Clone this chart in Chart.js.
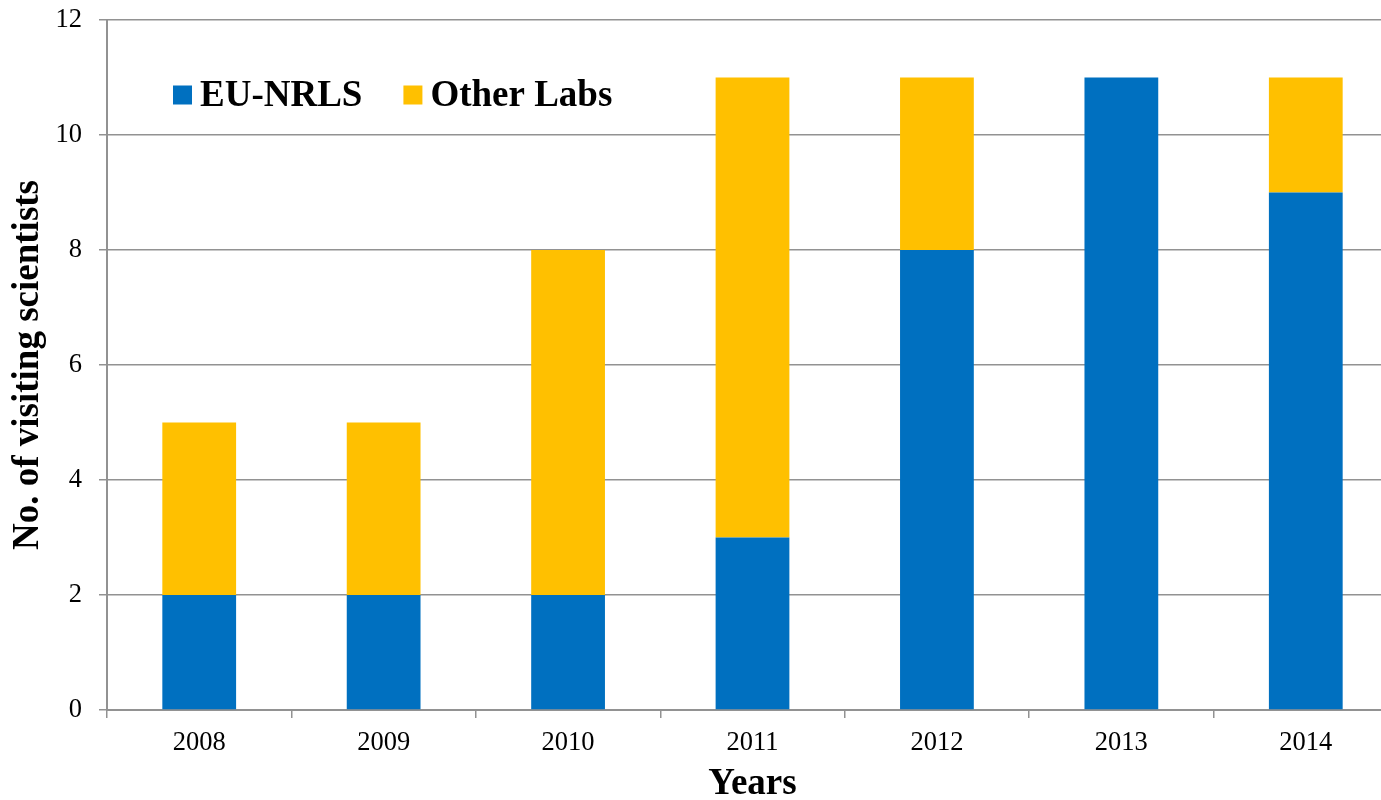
<!DOCTYPE html>
<html lang="en">
<head>
  <meta charset="UTF-8" />
  <title>Visiting scientists</title>
  <script src="https://cdn.jsdelivr.net/npm/chart.js"></script>
  <style>
    html, body { margin: 0; padding: 0; background: #fff; overflow: hidden; }
    .wrap { width: 1398px; height: 800px; position: relative; }
  </style>
</head>
<body>
  <div class="wrap"><canvas id="chart"></canvas></div>

  <script>
    const years = ['2008', '2009', '2010', '2011', '2012', '2013', '2014'];
    const euNrls = [2, 2, 2, 3, 8, 11, 9];
    const otherLabs = [3, 3, 6, 8, 3, 0, 2];
    const yTicks = [0, 2, 4, 6, 8, 10, 12];

    const serif = "'Liberation Serif', 'Times New Roman', serif";
    const gridGray = '#929292';

    // legend drawn inside the plot, top-left
    const innerLegend = {
      id: 'innerLegend',
      afterDraw(chart) {
        const ctx = chart.ctx;
        const area = chart.chartArea;
        let x = area.left + 66;
        const y = area.top + 75;
        ctx.save();
        ctx.font = 'bold 37px ' + serif;
        ctx.textBaseline = 'middle';
        chart.data.datasets.forEach(ds => {
          ctx.fillStyle = ds.backgroundColor;
          ctx.fillRect(x, y - 9.5, 19, 19);
          ctx.fillStyle = '#000';
          ctx.fillText(ds.label, x + 27, y + 1);
          x += 27 + ctx.measureText(ds.label).width + 41;
        });
        ctx.restore();
      }
    };

    new Chart(document.getElementById('chart'), {
      type: 'bar',
      data: {
        labels: years,
        datasets: [
          { label: 'EU-NRLS', data: euNrls, backgroundColor: '#0070C0' },
          { label: 'Other Labs', data: otherLabs, backgroundColor: '#FFC000' }
        ]
      },
      options: {
        responsive: true,
        maintainAspectRatio: false,
        animation: false,
        layout: { padding: { top: 20, left: 0, right: 0, bottom: 0 } },
        datasets: { bar: { categoryPercentage: 1, barPercentage: 0.4 } },
        plugins: { legend: { display: false }, tooltip: { enabled: false } },
        scales: {
          x: {
            stacked: true,
            grid: { display: true, drawOnChartArea: false, offset: true, color: gridGray, lineWidth: 1.5, tickLength: 8 },
            border: { color: gridGray, width: 2 },
            ticks: { color: '#000', font: { family: serif, size: 26.5 }, padding: 9, maxRotation: 0 },
            title: { display: true, text: 'Years', color: '#000', font: { family: serif, size: 37, weight: 'bold', lineHeight: 0.85 }, padding: { top: 0, bottom: 0 } },
            afterFit(scale) { scale.height = 90; scale.paddingLeft = 0; scale.paddingRight = 0; }
          },
          y: {
            stacked: true,
            min: 0,
            max: 12,
            afterBuildTicks(scale) { scale.ticks = yTicks.map(v => ({ value: v })); },
            grid: { color: gridGray, lineWidth: 1.5, tickLength: 8 },
            border: { color: gridGray, width: 2 },
            ticks: { color: '#000', font: { family: serif, size: 26.5 }, padding: 17 },
            title: { display: true, text: 'No. of visiting scientists', color: '#000', font: { family: serif, size: 37, weight: 'bold', lineHeight: 1 }, padding: { top: 10, bottom: 0 } },
            afterFit(scale) { scale.width = 107; scale.paddingTop = 0; scale.paddingBottom = 0; }
          }
        }
      },
      plugins: [innerLegend]
    });
  </script>
</body>
</html>
